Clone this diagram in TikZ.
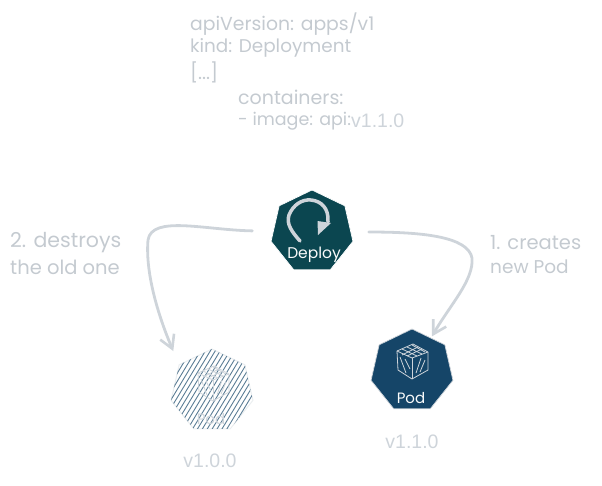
\documentclass[tikz,border=0pt]{standalone}
\usepackage{fontspec}
\setmainfont{Poppins}
\newfontfamily\plainfont{Liberation Sans}
\usetikzlibrary{arrows.meta,shapes.geometric}
\definecolor{soft}{HTML}{CED4DA}
\definecolor{softer}{HTML}{DEE2E6}
\definecolor{softtext}{HTML}{C4CAD0}
\definecolor{teal}{HTML}{0B4650}
\definecolor{navy}{HTML}{154568}
\tikzset{
  hepta/.style={regular polygon,regular polygon sides=7,minimum size=84pt,inner sep=0pt,outer sep=0pt},
  conn/.style={draw=soft,line width=2.8pt,line cap=round,line join=round,-{Straight Barb[length=13pt,width=15pt,line width=2.6pt]}},
  hand/.style={text=softtext,font=\fontsize{#1}{24}\selectfont,inner sep=0pt,anchor=west},
  ver/.style={text=soft,font=\plainfont\fontsize{19.5}{22}\selectfont,inner sep=0pt},
  icon/.style={line width=.8pt,line join=round}
}
\newcommand{\podicon}[3]{%
  \begin{scope}[shift={(#1,#2)},icon,draw=#3]
    \draw (-15,-10) -- (1,-17) -- (16,-9) -- (0,-3) -- cycle;
    \draw (-15,-10) -- (-14,9) -- (0,18) -- (16,9) -- (16,-9);
    \draw (0,-3) -- (0,18);
    \draw (-10,-12) -- (5,-5) (-5,-14) -- (10,-7) (0,-16) -- (13,-9);
    \draw (-10,-6) -- (6,-14) (-5,-5) -- (10,-12);
    \draw (-12,-4) -- (-6,12) (-7,-2) -- (-2,8) (4,12) -- (9,-3) (8,11) -- (13,-1);
  \end{scope}}
\begin{document}
\begin{tikzpicture}[x=1pt,y=-1pt]
\useasboundingbox (0,0) rectangle (602,485);
% YAML text
\node[hand=18.8] (l1) at (190,24) {apiVersion: apps/v1};
\node[hand=18.4] (l2) at (190,48) {kind: Deployment};
\node[hand=19] (l3) at (190,72) {[...]};
\node[hand=19] (l4) at (238,97) {containers:};
\node[hand=17.5] (l5) at (238,121) {- image: api:};
\node[ver,anchor=west] (l6) at (351,121) {v1.1.0};
% Deploy
\node[hepta,fill=teal,draw=white,line width=.7pt] (deploy) at (312,232) {};
\draw[soft,line width=3.5pt,line cap=round] (300,241) .. controls (292,232) and (286,224) .. (289,215) .. controls (293,205) and (302,199) .. (311,200) .. controls (321,201) and (329,208) .. (328,222);
\fill[soft] (317.5,221) -- (331,223) -- (318,235) -- cycle;
\node[text=white!90!soft,font=\fontsize{15.5}{16}\selectfont,inner sep=0pt] (deploylabel) at (314,255) {Deploy};
% New pod
\node[hepta,fill=navy,draw=soft,line width=.7pt] (pod) at (412,371) {};
\podicon{412}{361}{soft}
\node[text=white!90!soft,font=\fontsize{15}{16}\selectfont,inner sep=0pt] (podlabel) at (411,398) {Pod};
% Old pod
\node[hepta,draw=softer!60,line width=1pt] (old) at (212,391) {};
\begin{scope}
  \clip (old.corner 1) -- (old.corner 2) -- (old.corner 3) -- (old.corner 4) -- (old.corner 5) -- (old.corner 6) -- (old.corner 7) -- cycle;
  \foreach \i in {0,...,36}
    \draw[navy!70,line width=.9pt] (132+4.9*\i,440) -- ++(58,-96);
\end{scope}
\podicon{213}{383}{soft}
\node[text=soft,font=\fontsize{15}{16}\selectfont,inner sep=0pt] (oldlabel) at (211,419) {Pod};
% Connectors
\draw[conn,shorten <=18pt,shorten >=2pt] (deploy) .. controls (420,232) and (468,236) .. (472,258) .. controls (474,280) and (450,305) .. (pod);
\draw[conn,shorten <=21pt,shorten >=15pt] (deploy) .. controls (205,230) and (152,215) .. (148,240) .. controls (145,275) and (160,320) .. (old.corner 2);
% Labels
\node[hand=19.5] (c1) at (490,243) {1. creates};
\node[hand=18.5] (c2) at (490,267) {new Pod};
\node[hand=20.5] (d1) at (10,243) {2. destroys};
\node[hand=19.5] (d2) at (10,267) {the old one};
\node[ver] (v1) at (412,442) {v1.1.0};
\node[ver] (v0) at (210,461) {v1.0.0};
\end{tikzpicture}
\end{document}
